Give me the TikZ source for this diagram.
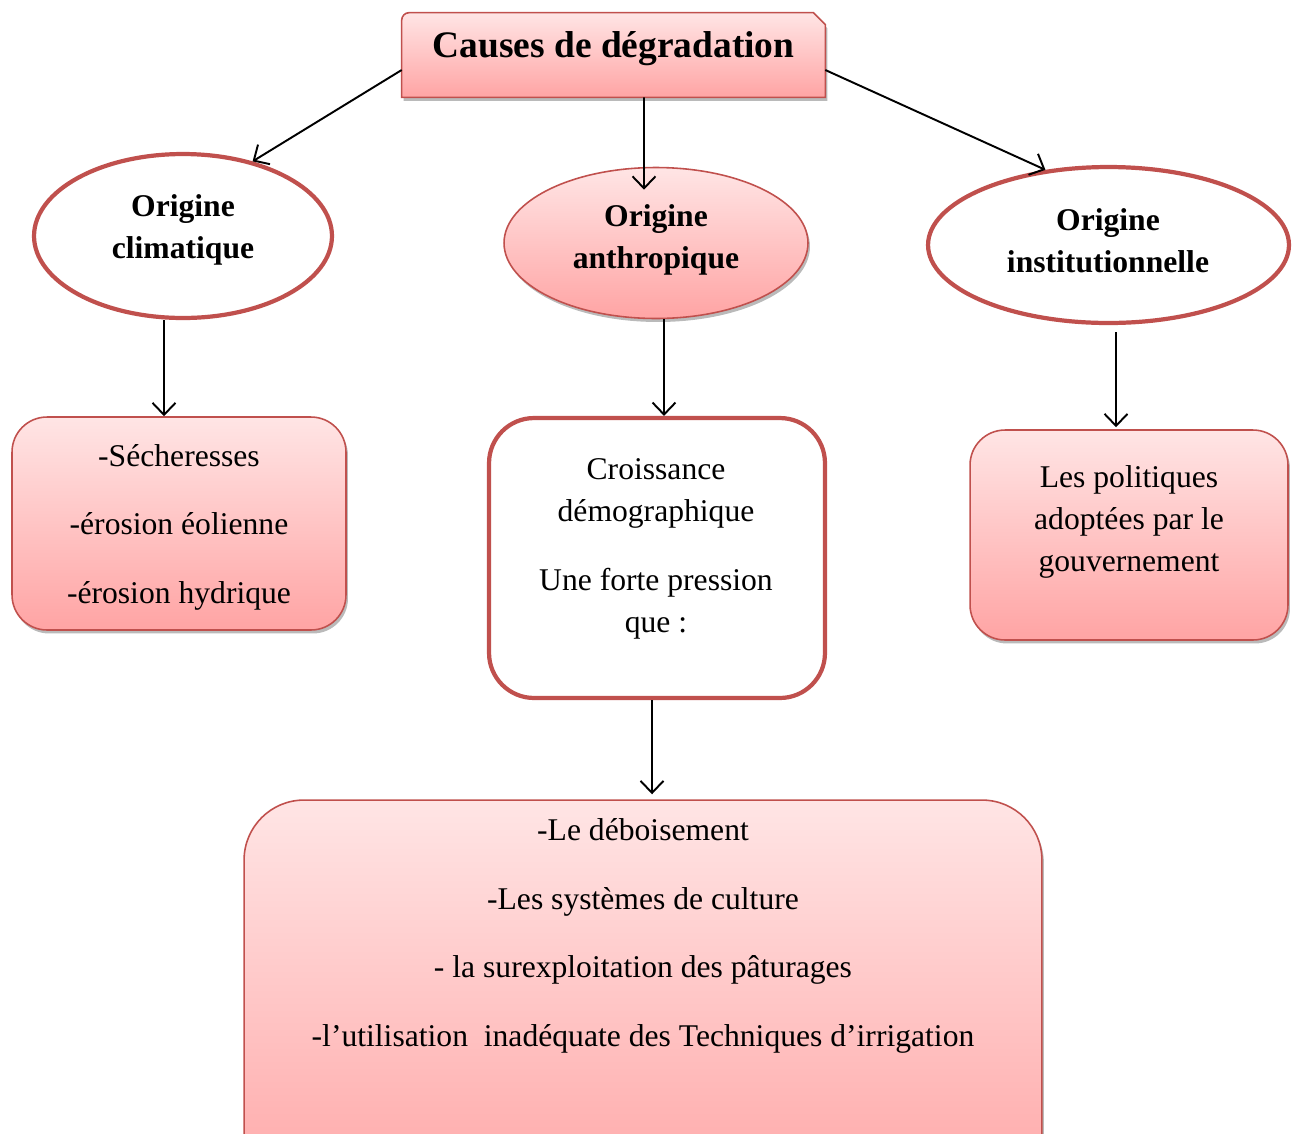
\documentclass[tikz,border=0pt]{standalone}
\usepackage{fontspec}
\setmainfont{Liberation Serif}
\usepackage{tikz}
\usetikzlibrary{positioning}
\usetikzlibrary{shapes.geometric, arrows.meta}
\usetikzlibrary{calc, shadows}
\definecolor{rouge}{HTML}{C0504D}
\definecolor{roseH}{RGB}{255,229,229}
\definecolor{roseB}{RGB}{255,164,164}
\tikzstyle{arrow} = [line width=1.1pt,-{Straight Barb[length=0.24cm,width=0.46cm]}]
\tikzstyle{ombre} = [drop shadow={shadow xshift=0.04cm, shadow yshift=-0.07cm, opacity=0.45, fill=black!60}]
\tikzstyle{degrade} = [draw=rouge, line width=0.9pt, top color=roseH, bottom color=roseB, ombre]
\tikzstyle{blanc} = [draw=rouge, line width=2.4pt, fill=white]
\tikzstyle{lbl} = [align=center, font=\fontsize{18}{24}\selectfont]
\tikzstyle{lblgras} = [align=center, font=\bfseries\fontsize{18}{24}\selectfont]

\begin{document}
\begin{tikzpicture}[x=0.02cm, y=-0.02cm, every node/.style={inner sep=0pt}]
  \useasboundingbox (0,0) rectangle (1300,1133);

  % Formes
  \node[minimum width=8.46cm, minimum height=1.68cm] (titre) at (613.5,55) {};
  \draw[degrade] (titre.south west) [rounded corners=0.15cm] -- (titre.north west) [sharp corners]
    -- ([xshift=-0.24cm]titre.north east) -- ([yshift=-0.24cm]titre.north east)
    -- (titre.south east) -- cycle;
  \node[blanc, ellipse, minimum width=5.96cm, minimum height=3.28cm] (climat) at (183,236) {};
  \node[degrade, ellipse, minimum width=6.08cm, minimum height=3.02cm] (anthro) at (656,243) {};
  \node[blanc, ellipse, minimum width=7.22cm, minimum height=3.12cm] (instit) at (1108.5,245) {};
  \node[degrade, rectangle, rounded corners=0.7cm,
        minimum width=6.68cm, minimum height=4.26cm] (boxClimat) at (179,523.5) {};
  \node[blanc, rectangle, rounded corners=0.9cm,
        minimum width=6.72cm, minimum height=5.6cm] (boxAnthro) at (657,558) {};
  \node[degrade, rectangle, rounded corners=0.7cm,
        minimum width=6.36cm, minimum height=4.2cm] (boxInstit) at (1129,535) {};
  \node[degrade, rectangle, rounded corners=1.2cm,
        minimum width=15.96cm, minimum height=8.4cm] (boxPression) at (643,1010) {};

  % Textes
  \node[lblgras, font=\bfseries\fontsize{21.3}{24}\selectfont] (titreT) at (613.5,49) {Causes de dégradation};
  \node[lblgras] (climatT) at (183,230) {Origine\\climatique};
  \node[lblgras] (anthroT) at (656,240) {Origine\\anthropique};
  \node[lblgras] (institT) at (1108,241) {Origine\\institutionnelle};
  \node[lbl] (boxClimatT) at (179,527) {-Sécheresses\\[15pt]-érosion éolienne\\[15pt]-érosion hydrique};
  \node[lbl] (boxAnthroT) at (656,549) {Croissance\\démographique\\[15pt]Une forte pression\\que :};
  \node[lbl] (boxInstitT) at (1129,522) {Les politiques\\adoptées par le\\gouvernement};
  \node[lbl] (boxPressionT) at (643,936) {-Le déboisement\\[15pt]-Les systèmes de culture\\[15pt]- la surexploitation des pâturages\\[15pt]-l’utilisation\ \ inadéquate des Techniques d’irrigation};

  % Fleches
  \draw[arrow] ([yshift=-0.3cm]titre.west) -- (climat.47);
  \draw[arrow] ([xshift=0.61cm]titre.south) -- ([xshift=-0.24cm,yshift=-0.46cm]anthro.north);
  \draw[arrow] ([yshift=-0.3cm]titre.east) -- (instit.130);
  \draw[arrow] ([xshift=-0.38cm]climat.south) -- ([xshift=-0.38cm]climat.south |- boxClimat.north);
  \draw[arrow] ([xshift=0.16cm]anthro.south) -- ([xshift=0.16cm]anthro.south |- boxAnthro.north);
  \draw[arrow] ([xshift=0.15cm,yshift=-0.14cm]instit.south) -- ([xshift=0.15cm,yshift=0.04cm]instit.south |- boxInstit.north);
  \draw[arrow] ([xshift=-0.1cm]boxAnthro.south) -- ([xshift=-0.1cm,yshift=0.1cm]boxAnthro.south |- boxPression.north);
\end{tikzpicture}
\end{document}
